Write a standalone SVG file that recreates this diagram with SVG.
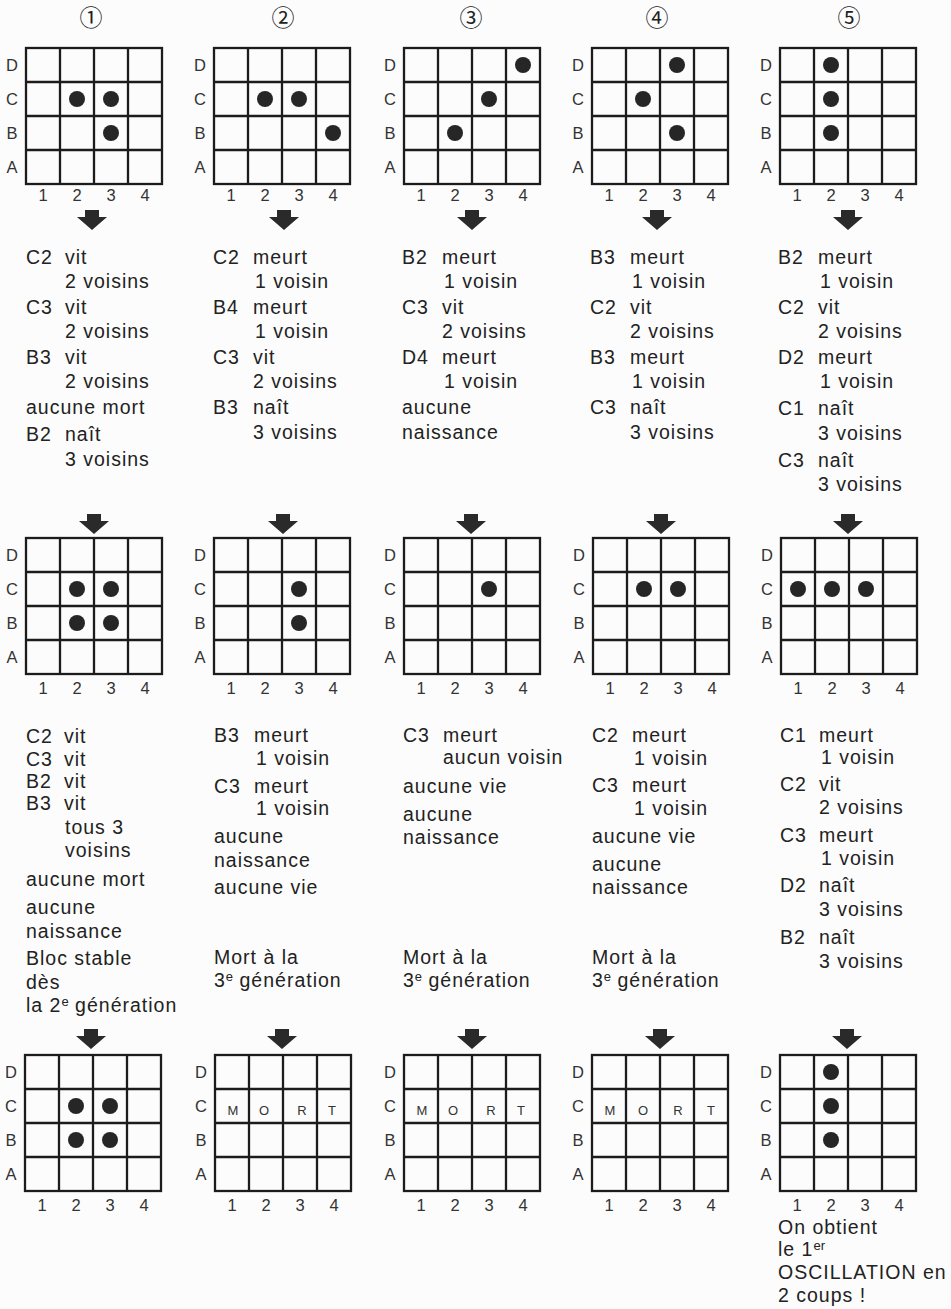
<svg xmlns="http://www.w3.org/2000/svg" xmlns:xlink="http://www.w3.org/1999/xlink" width="951" height="1309" viewBox="0 0 951 1309">
<style>
.t{font-family:"Liberation Sans",Arial,sans-serif;font-size:19.5px;letter-spacing:1px;fill:#222}
.sup{font-size:13px;letter-spacing:0}
.lbl{font-family:"Liberation Sans",Arial,sans-serif;font-size:16.5px;fill:#333;text-anchor:middle}
.mort{font-family:"Liberation Sans",Arial,sans-serif;font-size:13px;fill:#333;text-anchor:middle}
.g{fill:none;stroke:#1c1c1c;stroke-width:2.3}
.dot{fill:#262626}
.circ{font-family:"Noto Sans CJK JP","DejaVu Sans",sans-serif;font-size:23px;fill:#222;text-anchor:middle}
.arr{fill:#2a2a2a}
</style>
<defs>
<g id="gridlines">
<rect class="g" x="0" y="0" width="136" height="136"/>
<path class="g" d="M34 0V136M68 0V136M102 0V136M0 34H136M0 68H136M0 102H136"/>
</g>
<path id="arrow" d="M-7 0H7V7H15L0 20L-15 7H-7Z"/>
</defs>
<rect x="0" y="0" width="951" height="1309" fill="#fcfcfc"/>

<g id="headers">
<text class="circ" x="91" y="26">①</text>
<text class="circ" x="283" y="26">②</text>
<text class="circ" x="471" y="26">③</text>
<text class="circ" x="657" y="26">④</text>
<text class="circ" x="849" y="26">⑤</text>
</g>

<!-- Row 1 grids -->
<g id="grid-r1-c1" transform="translate(26,48)">
<use xlink:href="#gridlines"/>
<text class="lbl" x="-14" y="23">D</text><text class="lbl" x="-14" y="57">C</text><text class="lbl" x="-14" y="91">B</text><text class="lbl" x="-14" y="125">A</text>
<text class="lbl" x="17" y="153">1</text><text class="lbl" x="51" y="153">2</text><text class="lbl" x="85" y="153">3</text><text class="lbl" x="119" y="153">4</text>
<circle class="dot" cx="51" cy="51" r="8"/><circle class="dot" cx="85" cy="51" r="8"/><circle class="dot" cx="85" cy="85" r="8"/>
</g>
<g id="grid-r1-c2" transform="translate(214,48)">
<use xlink:href="#gridlines"/>
<text class="lbl" x="-14" y="23">D</text><text class="lbl" x="-14" y="57">C</text><text class="lbl" x="-14" y="91">B</text><text class="lbl" x="-14" y="125">A</text>
<text class="lbl" x="17" y="153">1</text><text class="lbl" x="51" y="153">2</text><text class="lbl" x="85" y="153">3</text><text class="lbl" x="119" y="153">4</text>
<circle class="dot" cx="51" cy="51" r="8"/><circle class="dot" cx="85" cy="51" r="8"/><circle class="dot" cx="119" cy="85" r="8"/>
</g>
<g id="grid-r1-c3" transform="translate(404,48)">
<use xlink:href="#gridlines"/>
<text class="lbl" x="-14" y="23">D</text><text class="lbl" x="-14" y="57">C</text><text class="lbl" x="-14" y="91">B</text><text class="lbl" x="-14" y="125">A</text>
<text class="lbl" x="17" y="153">1</text><text class="lbl" x="51" y="153">2</text><text class="lbl" x="85" y="153">3</text><text class="lbl" x="119" y="153">4</text>
<circle class="dot" cx="51" cy="85" r="8"/><circle class="dot" cx="85" cy="51" r="8"/><circle class="dot" cx="119" cy="17" r="8"/>
</g>
<g id="grid-r1-c4" transform="translate(592,48)">
<use xlink:href="#gridlines"/>
<text class="lbl" x="-14" y="23">D</text><text class="lbl" x="-14" y="57">C</text><text class="lbl" x="-14" y="91">B</text><text class="lbl" x="-14" y="125">A</text>
<text class="lbl" x="17" y="153">1</text><text class="lbl" x="51" y="153">2</text><text class="lbl" x="85" y="153">3</text><text class="lbl" x="119" y="153">4</text>
<circle class="dot" cx="85" cy="17" r="8"/><circle class="dot" cx="51" cy="51" r="8"/><circle class="dot" cx="85" cy="85" r="8"/>
</g>
<g id="grid-r1-c5" transform="translate(780,48)">
<use xlink:href="#gridlines"/>
<text class="lbl" x="-14" y="23">D</text><text class="lbl" x="-14" y="57">C</text><text class="lbl" x="-14" y="91">B</text><text class="lbl" x="-14" y="125">A</text>
<text class="lbl" x="17" y="153">1</text><text class="lbl" x="51" y="153">2</text><text class="lbl" x="85" y="153">3</text><text class="lbl" x="119" y="153">4</text>
<circle class="dot" cx="51" cy="17" r="8"/><circle class="dot" cx="51" cy="51" r="8"/><circle class="dot" cx="51" cy="85" r="8"/>
</g>

<!-- Row 1 texts -->
<g id="text-r1-c1" class="t">
<text x="26" y="264">C2</text><text x="65" y="264">vit</text>
<text x="65" y="288">2 voisins</text>
<text x="26" y="314">C3</text><text x="65" y="314">vit</text>
<text x="65" y="338">2 voisins</text>
<text x="26" y="364">B3</text><text x="65" y="364">vit</text>
<text x="65" y="388">2 voisins</text>
<text x="26" y="414">aucune mort</text>
<text x="26" y="441">B2</text><text x="65" y="441">naît</text>
<text x="65" y="466">3 voisins</text>
</g>
<g id="text-r1-c2" class="t">
<text x="213" y="264">C2</text><text x="253" y="264">meurt</text>
<text x="255" y="288">1 voisin</text>
<text x="213" y="314">B4</text><text x="253" y="314">meurt</text>
<text x="255" y="338">1 voisin</text>
<text x="213" y="364">C3</text><text x="253" y="364">vit</text>
<text x="253" y="388">2 voisins</text>
<text x="213" y="414">B3</text><text x="253" y="414">naît</text>
<text x="253" y="439">3 voisins</text>
</g>
<g id="text-r1-c3" class="t">
<text x="402" y="264">B2</text><text x="442" y="264">meurt</text>
<text x="444" y="288">1 voisin</text>
<text x="402" y="314">C3</text><text x="442" y="314">vit</text>
<text x="442" y="338">2 voisins</text>
<text x="402" y="364">D4</text><text x="442" y="364">meurt</text>
<text x="444" y="388">1 voisin</text>
<text x="402" y="414">aucune</text>
<text x="402" y="439">naissance</text>
</g>
<g id="text-r1-c4" class="t">
<text x="590" y="264">B3</text><text x="630" y="264">meurt</text>
<text x="632" y="288">1 voisin</text>
<text x="590" y="314">C2</text><text x="630" y="314">vit</text>
<text x="630" y="338">2 voisins</text>
<text x="590" y="364">B3</text><text x="630" y="364">meurt</text>
<text x="632" y="388">1 voisin</text>
<text x="590" y="414">C3</text><text x="630" y="414">naît</text>
<text x="630" y="439">3 voisins</text>
</g>
<g id="text-r1-c5" class="t">
<text x="778" y="264">B2</text><text x="818" y="264">meurt</text>
<text x="820" y="288">1 voisin</text>
<text x="778" y="314">C2</text><text x="818" y="314">vit</text>
<text x="818" y="338">2 voisins</text>
<text x="778" y="364">D2</text><text x="818" y="364">meurt</text>
<text x="820" y="388">1 voisin</text>
<text x="778" y="415">C1</text><text x="818" y="415">naît</text>
<text x="818" y="440">3 voisins</text>
<text x="778" y="467">C3</text><text x="818" y="467">naît</text>
<text x="818" y="491">3 voisins</text>
</g>

<!-- Row 2 grids -->
<g id="grid-r2-c1" transform="translate(26,538)">
<use xlink:href="#gridlines"/>
<text class="lbl" x="-14" y="23">D</text><text class="lbl" x="-14" y="57">C</text><text class="lbl" x="-14" y="91">B</text><text class="lbl" x="-14" y="125">A</text>
<text class="lbl" x="17" y="156">1</text><text class="lbl" x="51" y="156">2</text><text class="lbl" x="85" y="156">3</text><text class="lbl" x="119" y="156">4</text>
<circle class="dot" cx="51" cy="51" r="8"/><circle class="dot" cx="85" cy="51" r="8"/><circle class="dot" cx="51" cy="85" r="8"/><circle class="dot" cx="85" cy="85" r="8"/>
</g>
<g id="grid-r2-c2" transform="translate(214,538)">
<use xlink:href="#gridlines"/>
<text class="lbl" x="-14" y="23">D</text><text class="lbl" x="-14" y="57">C</text><text class="lbl" x="-14" y="91">B</text><text class="lbl" x="-14" y="125">A</text>
<text class="lbl" x="17" y="156">1</text><text class="lbl" x="51" y="156">2</text><text class="lbl" x="85" y="156">3</text><text class="lbl" x="119" y="156">4</text>
<circle class="dot" cx="85" cy="51" r="8"/><circle class="dot" cx="85" cy="85" r="8"/>
</g>
<g id="grid-r2-c3" transform="translate(404,538)">
<use xlink:href="#gridlines"/>
<text class="lbl" x="-14" y="23">D</text><text class="lbl" x="-14" y="57">C</text><text class="lbl" x="-14" y="91">B</text><text class="lbl" x="-14" y="125">A</text>
<text class="lbl" x="17" y="156">1</text><text class="lbl" x="51" y="156">2</text><text class="lbl" x="85" y="156">3</text><text class="lbl" x="119" y="156">4</text>
<circle class="dot" cx="85" cy="51" r="8"/>
</g>
<g id="grid-r2-c4" transform="translate(593,538)">
<use xlink:href="#gridlines"/>
<text class="lbl" x="-14" y="23">D</text><text class="lbl" x="-14" y="57">C</text><text class="lbl" x="-14" y="91">B</text><text class="lbl" x="-14" y="125">A</text>
<text class="lbl" x="17" y="156">1</text><text class="lbl" x="51" y="156">2</text><text class="lbl" x="85" y="156">3</text><text class="lbl" x="119" y="156">4</text>
<circle class="dot" cx="51" cy="51" r="8"/><circle class="dot" cx="85" cy="51" r="8"/>
</g>
<g id="grid-r2-c5" transform="translate(781,538)">
<use xlink:href="#gridlines"/>
<text class="lbl" x="-14" y="23">D</text><text class="lbl" x="-14" y="57">C</text><text class="lbl" x="-14" y="91">B</text><text class="lbl" x="-14" y="125">A</text>
<text class="lbl" x="17" y="156">1</text><text class="lbl" x="51" y="156">2</text><text class="lbl" x="85" y="156">3</text><text class="lbl" x="119" y="156">4</text>
<circle class="dot" cx="17" cy="51" r="8"/><circle class="dot" cx="51" cy="51" r="8"/><circle class="dot" cx="85" cy="51" r="8"/>
</g>

<!-- Row 2 texts -->
<g id="text-r2-c1" class="t">
<text x="26" y="743">C2</text><text x="64" y="743">vit</text>
<text x="26" y="766">C3</text><text x="64" y="766">vit</text>
<text x="26" y="788">B2</text><text x="64" y="788">vit</text>
<text x="26" y="810">B3</text><text x="64" y="810">vit</text>
<text x="65" y="834">tous 3</text>
<text x="65" y="857">voisins</text>
<text x="26" y="886">aucune mort</text>
<text x="26" y="914">aucune</text>
<text x="26" y="938">naissance</text>
<text x="26" y="965">Bloc stable</text>
<text x="26" y="989">dès</text>
<text x="26" y="1012">la 2<tspan class="sup" dy="-6">e</tspan><tspan dy="6"> génération</tspan></text>
</g>
<g id="text-r2-c2" class="t">
<text x="214" y="742">B3</text><text x="254" y="742">meurt</text>
<text x="256" y="765">1 voisin</text>
<text x="214" y="793">C3</text><text x="254" y="793">meurt</text>
<text x="256" y="815">1 voisin</text>
<text x="214" y="843">aucune</text>
<text x="214" y="867">naissance</text>
<text x="214" y="894">aucune vie</text>
<text x="214" y="964">Mort à la</text>
<text x="214" y="987">3<tspan class="sup" dy="-6">e</tspan><tspan dy="6"> génération</tspan></text>
</g>
<g id="text-r2-c3" class="t">
<text x="403" y="742">C3</text><text x="443" y="742">meurt</text>
<text x="443" y="764">aucun voisin</text>
<text x="403" y="793">aucune vie</text>
<text x="403" y="821">aucune</text>
<text x="403" y="844">naissance</text>
<text x="403" y="964">Mort à la</text>
<text x="403" y="987">3<tspan class="sup" dy="-6">e</tspan><tspan dy="6"> génération</tspan></text>
</g>
<g id="text-r2-c4" class="t">
<text x="592" y="742">C2</text><text x="632" y="742">meurt</text>
<text x="634" y="765">1 voisin</text>
<text x="592" y="792">C3</text><text x="632" y="792">meurt</text>
<text x="634" y="815">1 voisin</text>
<text x="592" y="843">aucune vie</text>
<text x="592" y="871">aucune</text>
<text x="592" y="894">naissance</text>
<text x="592" y="964">Mort à la</text>
<text x="592" y="987">3<tspan class="sup" dy="-6">e</tspan><tspan dy="6"> génération</tspan></text>
</g>
<g id="text-r2-c5" class="t">
<text x="780" y="742">C1</text><text x="819" y="742">meurt</text>
<text x="821" y="764">1 voisin</text>
<text x="780" y="791">C2</text><text x="819" y="791">vit</text>
<text x="819" y="814">2 voisins</text>
<text x="780" y="842">C3</text><text x="819" y="842">meurt</text>
<text x="821" y="865">1 voisin</text>
<text x="780" y="892">D2</text><text x="819" y="892">naît</text>
<text x="819" y="916">3 voisins</text>
<text x="780" y="944">B2</text><text x="819" y="944">naît</text>
<text x="819" y="968">3 voisins</text>
</g>

<!-- Row 3 grids -->
<g id="grid-r3-c1" transform="translate(25,1055)">
<use xlink:href="#gridlines"/>
<text class="lbl" x="-14" y="23">D</text><text class="lbl" x="-14" y="57">C</text><text class="lbl" x="-14" y="91">B</text><text class="lbl" x="-14" y="125">A</text>
<text class="lbl" x="17" y="156">1</text><text class="lbl" x="51" y="156">2</text><text class="lbl" x="85" y="156">3</text><text class="lbl" x="119" y="156">4</text>
<circle class="dot" cx="51" cy="51" r="8"/><circle class="dot" cx="85" cy="51" r="8"/><circle class="dot" cx="51" cy="85" r="8"/><circle class="dot" cx="85" cy="85" r="8"/>
</g>
<g id="grid-r3-c2" transform="translate(215,1055)">
<use xlink:href="#gridlines"/>
<text class="lbl" x="-14" y="23">D</text><text class="lbl" x="-14" y="57">C</text><text class="lbl" x="-14" y="91">B</text><text class="lbl" x="-14" y="125">A</text>
<text class="lbl" x="17" y="156">1</text><text class="lbl" x="51" y="156">2</text><text class="lbl" x="85" y="156">3</text><text class="lbl" x="119" y="156">4</text>
<text class="mort" x="18" y="60">M</text><text class="mort" x="49" y="60">O</text><text class="mort" x="87" y="60">R</text><text class="mort" x="117" y="60">T</text>
</g>
<g id="grid-r3-c3" transform="translate(404,1055)">
<use xlink:href="#gridlines"/>
<text class="lbl" x="-14" y="23">D</text><text class="lbl" x="-14" y="57">C</text><text class="lbl" x="-14" y="91">B</text><text class="lbl" x="-14" y="125">A</text>
<text class="lbl" x="17" y="156">1</text><text class="lbl" x="51" y="156">2</text><text class="lbl" x="85" y="156">3</text><text class="lbl" x="119" y="156">4</text>
<text class="mort" x="18" y="60">M</text><text class="mort" x="49" y="60">O</text><text class="mort" x="87" y="60">R</text><text class="mort" x="117" y="60">T</text>
</g>
<g id="grid-r3-c4" transform="translate(592,1055)">
<use xlink:href="#gridlines"/>
<text class="lbl" x="-14" y="23">D</text><text class="lbl" x="-14" y="57">C</text><text class="lbl" x="-14" y="91">B</text><text class="lbl" x="-14" y="125">A</text>
<text class="lbl" x="17" y="156">1</text><text class="lbl" x="51" y="156">2</text><text class="lbl" x="85" y="156">3</text><text class="lbl" x="119" y="156">4</text>
<text class="mort" x="18" y="60">M</text><text class="mort" x="51" y="60">O</text><text class="mort" x="86" y="60">R</text><text class="mort" x="119" y="60">T</text>
</g>
<g id="grid-r3-c5" transform="translate(780,1055)">
<use xlink:href="#gridlines"/>
<text class="lbl" x="-14" y="23">D</text><text class="lbl" x="-14" y="57">C</text><text class="lbl" x="-14" y="91">B</text><text class="lbl" x="-14" y="125">A</text>
<text class="lbl" x="17" y="156">1</text><text class="lbl" x="51" y="156">2</text><text class="lbl" x="85" y="156">3</text><text class="lbl" x="119" y="156">4</text>
<circle class="dot" cx="51" cy="17" r="8"/><circle class="dot" cx="51" cy="51" r="8"/><circle class="dot" cx="51" cy="85" r="8"/>
</g>

<g id="text-r3-c5" class="t">
<text x="778" y="1234">On obtient</text>
<text x="778" y="1256">le 1<tspan class="sup" dy="-6">er</tspan></text>
<text x="778" y="1279">OSCILLATION en</text>
<text x="778" y="1302">2 coups !</text>
</g>

<!-- Connectors: downward arrows -->
<g id="connectors" class="arr">
<use xlink:href="#arrow" x="92" y="210"/>
<use xlink:href="#arrow" x="284" y="210"/>
<use xlink:href="#arrow" x="472" y="210"/>
<use xlink:href="#arrow" x="657" y="210"/>
<use xlink:href="#arrow" x="848" y="210"/>
<use xlink:href="#arrow" x="94" y="514"/>
<use xlink:href="#arrow" x="283" y="514"/>
<use xlink:href="#arrow" x="471" y="514"/>
<use xlink:href="#arrow" x="661" y="514"/>
<use xlink:href="#arrow" x="848" y="514"/>
<use xlink:href="#arrow" x="91" y="1029"/>
<use xlink:href="#arrow" x="282" y="1029"/>
<use xlink:href="#arrow" x="472" y="1029"/>
<use xlink:href="#arrow" x="660" y="1029"/>
<use xlink:href="#arrow" x="847" y="1029"/>
</g>
</svg>
